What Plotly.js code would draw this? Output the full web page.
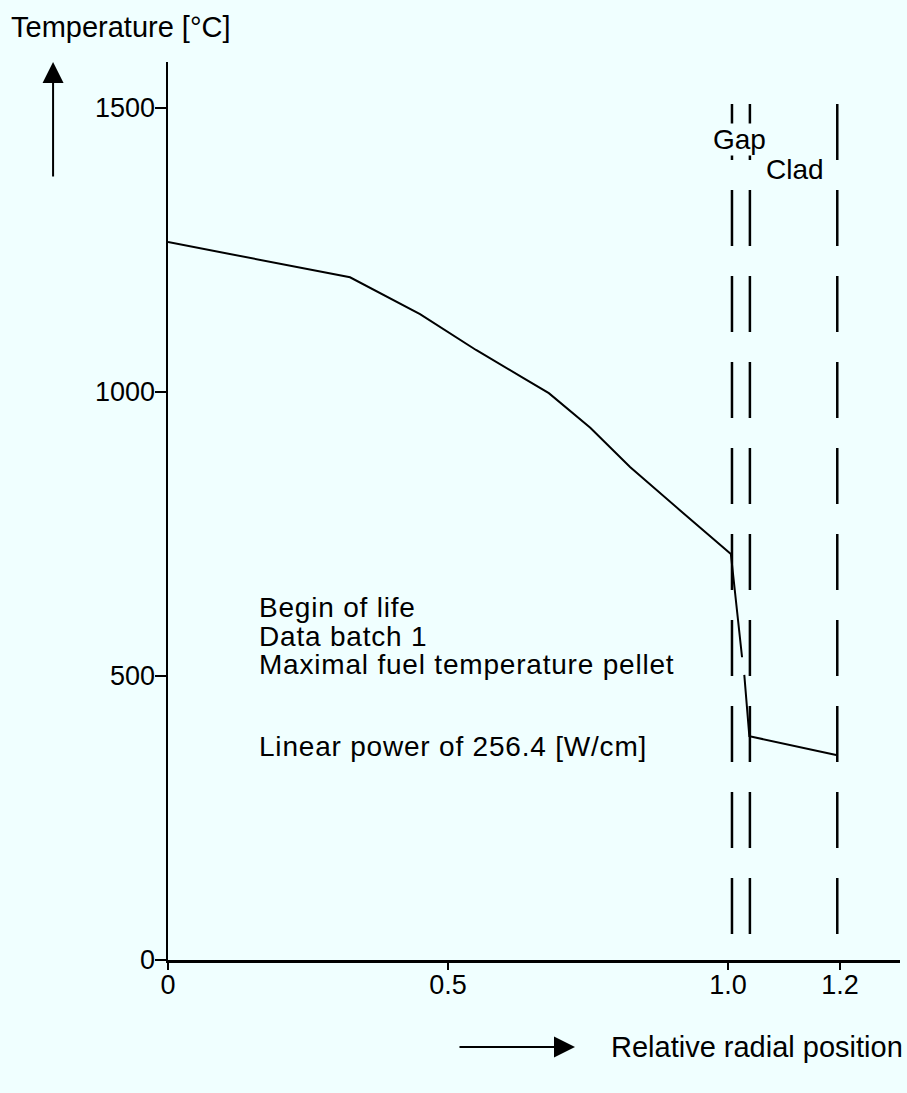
<!DOCTYPE html>
<html>
<head>
<meta charset="utf-8">
<script src="https://cdn.plot.ly/plotly-3.0.1.min.js"></script>
<style>
  html, body { margin: 0; padding: 0; background: #f0ffff; }
  #chart { width: 907px; height: 1093px; }
  .annotation[data-index="0"] text,
  .annotation[data-index="1"] text,
  .annotation[data-index="2"] text,
  .annotation[data-index="3"] text { letter-spacing: 0.8px; }
</style>
</head>
<body>
<div id="chart"></div>
<script>
// Temperature profile (relative radial position vs temperature °C)
const radialPos = [0, 0.325, 0.45, 0.55, 0.634, 0.68, 0.754, 0.825, 0.914, 1.005, 1.025, null, 1.029, 1.038, 1.193];
const temperature = [1264, 1202, 1137, 1074, 1025, 998, 937, 868, 792, 715, 533, null, 502, 394, 361];

// Region boundaries (dashed vertical lines): fuel surface, gap/clad, clad outer
const boundaryX = [1.007, 1.039, 1.195];
const boundaryTop = 1507;
const boundaryBottom = 39;

const xTickVals = [0, 0.5, 1.0, 1.2];
const xTickText = ['0', '0.5', '1.0', '1.2'];
const yTickVals = [0, 500, 1000, 1500];
const yTickText = ['0', '500', '1000', '1500'];

const noteLines = ['Begin of life', 'Data batch 1', 'Maximal fuel temperature pellet', 'Linear power of 256.4 [W/cm]'];
const noteY = [620, 570, 521, 376];
const regionLabels = ['Gap', 'Clad'];
const regionLabelX = [1.021, 1.12];
const regionLabelY = [1444, 1391];

const FONT = 'Liberation Sans, Arial, Helvetica, sans-serif';
const BG = '#f0ffff';

const traces = [{
  x: radialPos, y: temperature, type: 'scatter', mode: 'lines',
  line: { color: '#000', width: 2 }, connectgaps: false, hoverinfo: 'skip', showlegend: false
}];

const shapes = boundaryX.map(bx => ({
  type: 'line', xref: 'x', yref: 'y', x0: bx, x1: bx, y0: boundaryTop, y1: boundaryBottom,
  line: { color: '#000', width: 2.5, dash: '56px,30px' }
}));

const annotations = [];
noteLines.forEach((t, i) => annotations.push({
  x: 0.161, y: noteY[i], xref: 'x', yref: 'y', text: t, showarrow: false,
  xanchor: 'left', yanchor: 'middle', align: 'left', borderpad: 0,
  font: { family: FONT, size: 28, color: '#000' }
}));
regionLabels.forEach((t, i) => annotations.push({
  x: regionLabelX[i], y: regionLabelY[i], xref: 'x', yref: 'y', text: t, showarrow: false,
  xanchor: 'center', yanchor: 'middle', bgcolor: BG, borderpad: 0,
  font: { family: FONT, size: 28, color: '#000' }
}));
// y axis title at top-left
annotations.push({
  x: -0.217, y: 1.039, xref: 'paper', yref: 'paper', text: 'Temperature [°C]', showarrow: false,
  xanchor: 'left', yanchor: 'middle', font: { family: FONT, size: 29, color: '#000' }
});
// upward arrow
annotations.push({
  x: -0.157, y: 1.0, xref: 'paper', yref: 'paper', text: '', showarrow: true,
  ax: 0, ay: 116, arrowhead: 2, arrowsize: 2.1, arrowwidth: 2, arrowcolor: '#000', standoff: 0
});
// x axis title with right arrow
annotations.push({
  x: 0.603, y: -0.0969, xref: 'paper', yref: 'paper', text: 'Relative radial position', showarrow: false,
  xanchor: 'left', yanchor: 'middle', font: { family: FONT, size: 29, color: '#000' }
});
annotations.push({
  x: 0.556, y: -0.0969, xref: 'paper', yref: 'paper', text: '', showarrow: true,
  ax: -117, ay: 0, arrowhead: 2, arrowsize: 2.1, arrowwidth: 2, arrowcolor: '#000', standoff: 0
});

const layout = {
  width: 907, height: 1093,
  margin: { l: 168, r: 7, t: 62, b: 133 },
  paper_bgcolor: BG, plot_bgcolor: BG,
  font: { family: FONT, size: 27, color: '#000' },
  showlegend: false,
  xaxis: {
    range: [0, 1.307], showgrid: false, zeroline: false,
    showline: true, linecolor: '#000', linewidth: 2.5,
    ticks: 'outside', ticklen: 7, tickwidth: 2, tickcolor: '#000',
    ticklabelstandoff: -8,
    tickvals: xTickVals, ticktext: xTickText,
    tickfont: { family: FONT, size: 27, color: '#000' }
  },
  yaxis: {
    range: [0, 1581], showgrid: false, zeroline: false,
    showline: true, linecolor: '#000', linewidth: 2.5,
    ticks: 'outside', ticklen: 11, tickwidth: 2, tickcolor: '#000',
    ticklabelstandoff: -6,
    tickvals: yTickVals, ticktext: yTickText,
    tickfont: { family: FONT, size: 27, color: '#000' }
  },
  shapes: shapes,
  annotations: annotations
};

Plotly.newPlot('chart', traces, layout, { displayModeBar: false, staticPlot: true });
</script>
</body>
</html>
